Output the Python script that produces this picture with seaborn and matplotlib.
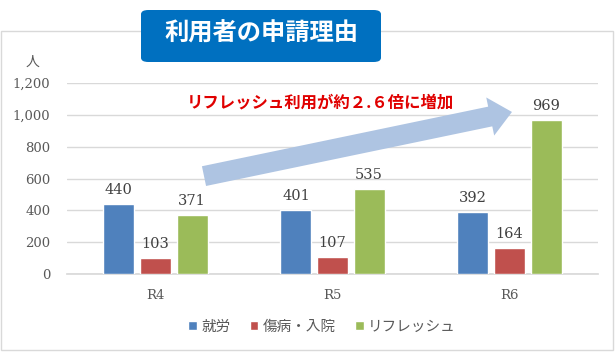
import matplotlib
matplotlib.use('Agg')
import matplotlib.pyplot as plt
import pandas as pd
import seaborn as sns
from matplotlib.patches import FancyBboxPatch, Rectangle
from matplotlib.ticker import FuncFormatter

# values
years = ['R4', 'R5', 'R6']
reasons = ['就労', '傷病・入院', 'リフレッシュ']
work = [440, 401, 392]
sick = [103, 107, 164]
refresh = [371, 535, 969]
colors = ['#4F81BD', '#C0504D', '#9BBB59']

df = pd.DataFrame({
    'year': years * 3,
    'reason': [r for r in reasons for _ in years],
    'count': work + sick + refresh,
})

sns.set_theme(style='white')
plt.rcParams['font.family'] = ['Noto Sans CJK JP', 'DejaVu Sans']
num_font = 'DejaVu Serif'
txt_gray = '#595959'

W, H = 615, 352
fig = plt.figure(figsize=(W / 100, H / 100), dpi=100)
ax = fig.add_axes([67 / W, 1 - 274 / H, 531 / W, 191 / H])

sns.barplot(data=df, x='year', y='count', hue='reason', hue_order=reasons,
            palette=colors, saturation=1, width=0.62, gap=0.15,
            ax=ax, zorder=3)

ax.set_ylim(0, 1200)
ax.set_xlim(-0.5, 2.5)
ax.set_yticks(range(0, 1201, 200))
ax.yaxis.set_major_formatter(FuncFormatter(lambda v, p: f'{int(v):,}'))
ax.grid(axis='y', color='#d9d9d9', linewidth=1, zorder=0)
ax.set_axisbelow(True)
for side in ['top', 'right', 'left']:
    ax.spines[side].set_visible(False)
ax.spines['bottom'].set_color('#d9d9d9')
ax.tick_params(axis='both', length=0, colors=txt_gray)
ax.tick_params(axis='y', pad=12)
ax.tick_params(axis='x', pad=11)
for lab in ax.get_xticklabels() + ax.get_yticklabels():
    lab.set_fontfamily(num_font)
    lab.set_fontsize(9.5)
ax.set_xlabel('')
ax.set_ylabel('')

for cont in ax.containers:
    ax.bar_label(cont, padding=5, fontsize=10.5, color='#404040',
                 family=num_font)

handles, labels = ax.get_legend_handles_labels()
ax.legend(handles, labels, loc='center', bbox_to_anchor=(322 / W, 1 - 327 / H),
          bbox_transform=fig.transFigure, ncol=3, frameon=False,
          handlelength=0.6, handleheight=0.6, handletextpad=0.3,
          columnspacing=1.3, fontsize=10.5, labelcolor=txt_gray)

# trend arrow
ax.annotate('', xy=(2.014, 1018), xytext=(0.274, 615),
            arrowprops=dict(arrowstyle='simple,head_length=16,head_width=28,tail_width=14.5',
                            mutation_scale=1, color='#AEC4E2', lw=0,
                            shrinkA=0, shrinkB=0), zorder=2)
fig.text(320 / W, 1 - 102 / H, 'リフレッシュ利用が約２.６倍に増加', color='#E00000',
         fontsize=11.8, fontweight='bold', ha='center', va='center')

fig.text(33 / W, 1 - 62 / H, '人', color=txt_gray, fontsize=10,
         ha='center', va='center')

# outer chart frame
fig.patches.append(Rectangle((1 / W, 2 / H), 612 / W, 319 / H,
                             transform=fig.transFigure, fill=False,
                             edgecolor='#d9d9d9', linewidth=1))
# title box
fig.patches.append(FancyBboxPatch((141 / W, 1 - 62 / H), 240 / W, 52 / H,
                                  boxstyle='round,pad=0,rounding_size=0.012',
                                  transform=fig.transFigure,
                                  facecolor='#0070C0', edgecolor='none',
                                  zorder=5))
fig.text(261 / W, 1 - 34 / H, '利用者の申請理由', color='white', fontsize=17.5,
         fontweight='bold', ha='center', va='center', zorder=6)

fig.savefig('out.png', dpi=100)
